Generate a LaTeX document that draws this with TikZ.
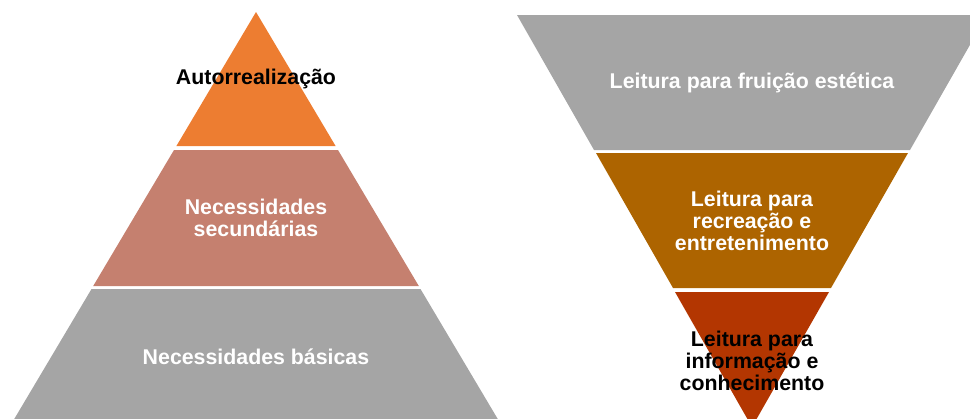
\documentclass[tikz,border=0pt]{standalone}
\usepackage{fontspec}
\setmainfont{Liberation Sans}
\definecolor{layerorange}{HTML}{ED7D31}
\definecolor{layerpink}{HTML}{C5806F}
\definecolor{layergray}{HTML}{A5A5A5}
\definecolor{layerbrown}{HTML}{AD6400}
\definecolor{layerred}{HTML}{B33601}
\begin{document}
\begin{tikzpicture}[x=0.75pt,y=-0.75pt,label node/.style={align=center,font=\fontsize{16}{16.5}\selectfont\bfseries,text=white}]
        \useasboundingbox (0,0) rectangle (970,418);
        \clip (0,0) rectangle (970,418);
        \fill [layerorange] (256,12) -- (335.6,146) -- (176.4,146) -- cycle;
        \fill [layerpink] (174,150) -- (338,150) -- (418.8,286) -- (93.2,286) -- cycle;
        \fill [layergray] (91.5,289) -- (420.5,289) -- (504.3,430) -- (7.7,430) -- cycle;
        \fill [layergray] (517,15) -- (987,15) -- (910,150) -- (594,150) -- cycle;
        \fill [layerbrown] (596,153) -- (908,153) -- (831,288) -- (673,288) -- cycle;
        \fill [layerred] (675,292) -- (829,292) -- (752,427) -- cycle;
        \node [label node, text=black] (1) at (256,79) {Autorrealização};
        \node [label node] (2) at (256,218) {Necessidades\\secundárias};
        \node [label node] (3) at (256,357) {Necessidades básicas};
        \node [label node] (4) at (752,83) {Leitura para fruição estética};
        \node [label node] (5) at (752,221) {Leitura para\\recreação e\\entretenimento};
        \node [label node, text=black] (6) at (752,361) {Leitura para\\informação e\\conhecimento};
    \end{tikzpicture}
\end{document}
